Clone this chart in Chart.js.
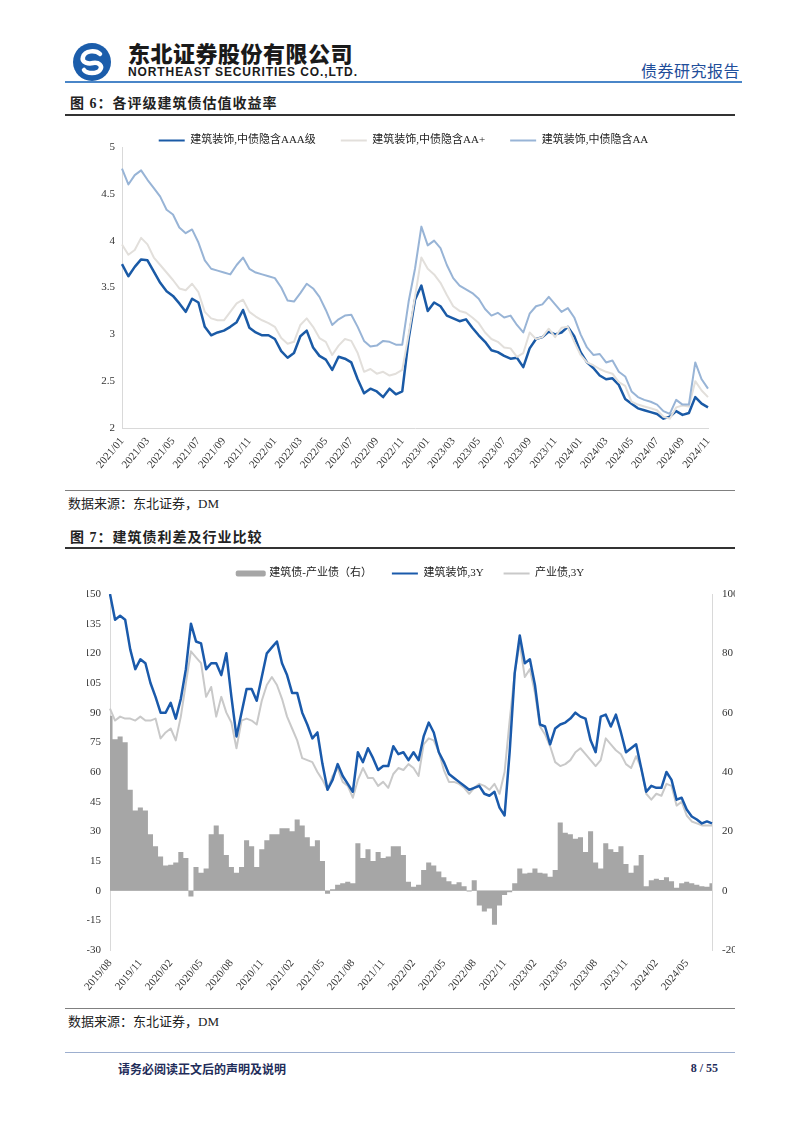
<!DOCTYPE html>
<html>
<head>
<meta charset="UTF-8">
<title>建筑债估值收益率与利差</title>
<script src="https://cdn.jsdelivr.net/npm/chart.js"></script>
<style>
  html, body { margin: 0; padding: 0; background: #fff; }
  body { position: relative; width: 802px; height: 1133px; overflow: hidden;
         font-family: "Liberation Serif", "Noto Sans CJK SC", serif; color: #222; }
  .abs { position: absolute; white-space: nowrap; }
  .rule { position: absolute; left: 65px; width: 670px; }
  .fig-title { position: absolute; left: 70px; font-size: 14px; font-weight: 700; letter-spacing: 1px; line-height: 16px; white-space: nowrap; }
  .source { position: absolute; left: 68px; font-size: 13px; line-height: 15px; color: #222; white-space: nowrap; }
  canvas { position: absolute; }
</style>
</head>
<body>

<svg class="abs" style="left:72px;top:42px" width="40" height="40" viewBox="0 0 40 40">
  <circle cx="20" cy="20" r="19" fill="#1b5dab"/>
  <path d="M28 12 C24 8 13 8 11 15 C9 21 17 22 21 21 C27 20 31 24 28 28 C25 32 15 32 12 28" fill="none" stroke="#fff" stroke-width="4.5" stroke-linecap="round"/>
</svg>
<div class="abs" style="left:128px;top:41px;font:900 22px/22px 'Noto Sans CJK SC';letter-spacing:0.5px;color:#1a1a1a">东北证券股份有限公司</div>
<div class="abs" style="left:128px;top:66px;font:bold 12px/12px 'Liberation Sans';letter-spacing:0.9px;color:#1a1a1a">NORTHEAST SECURITIES CO.,LTD.</div>
<div class="abs" style="left:641px;top:62px;font:16px/17px 'Noto Sans CJK SC';letter-spacing:0.5px;color:#1f4e9a">债券研究报告</div>
<div class="rule" style="top:81px;height:2px;width:677px;background:#4a86c8"></div>

<div class="fig-title" style="top:96px">图 6：各评级建筑债估值收益率</div>
<div class="rule" style="top:114px;height:2px;background:#333"></div>
<canvas id="yieldChart" width="670" height="375" style="left:65px;top:110px"></canvas>
<div class="rule" style="top:490px;height:1px;background:#808080"></div>
<div class="source" style="top:496px">数据来源：东北证券，DM</div>

<div class="fig-title" style="top:530px">图 7：建筑债利差及行业比较</div>
<div class="rule" style="top:547px;height:2px;background:#333"></div>
<canvas id="spreadChart" width="670" height="457" style="left:65px;top:548px"></canvas>
<div class="rule" style="top:1008px;height:1px;background:#808080"></div>
<div class="source" style="top:1014px">数据来源：东北证券，DM</div>

<div class="rule" style="top:1052px;height:1px;background:#9dafcf"></div>
<div class="abs" style="left:118px;top:1062px;font:bold 12px/14px 'Noto Sans CJK SC';color:#1f2d5a">请务必阅读正文后的声明及说明</div>
<div class="abs" style="left:668px;top:1061px;width:50px;text-align:right;font:bold 12px/14px 'Liberation Serif';color:#1f2d5a">8 / 55</div>

<script>
// 图6：各评级建筑债估值收益率（%），半月一个点，2021/01 起
const aaaYield = [3.75, 3.62, 3.72, 3.80, 3.79, 3.67, 3.55, 3.46, 3.41, 3.33,
  3.24, 3.38, 3.34, 3.08, 2.99, 3.02, 3.04, 3.08, 3.13, 3.26,
  3.07, 3.02, 2.99, 2.99, 2.95, 2.82, 2.75, 2.80, 2.98, 3.04,
  2.86, 2.77, 2.73, 2.62, 2.76, 2.74, 2.70, 2.52, 2.37, 2.42,
  2.39, 2.33, 2.42, 2.36, 2.39, 2.95, 3.37, 3.52, 3.25, 3.34,
  3.30, 3.20, 3.17, 3.14, 3.16, 3.07, 2.99, 2.92, 2.83, 2.81,
  2.77, 2.74, 2.75, 2.65, 2.85, 2.95, 2.97, 3.03, 3.00, 3.02,
  3.08, 2.98, 2.81, 2.70, 2.64, 2.56, 2.52, 2.53, 2.46, 2.31,
  2.26, 2.21, 2.19, 2.17, 2.15, 2.10, 2.12, 2.18, 2.14, 2.16,
  2.33, 2.26, 2.22];
const aaPlusYield = [3.96, 3.85, 3.90, 4.03, 3.96, 3.82, 3.74, 3.66, 3.58, 3.49,
  3.47, 3.54, 3.45, 3.24, 3.17, 3.15, 3.15, 3.24, 3.33, 3.37,
  3.24, 3.19, 3.15, 3.12, 3.08, 2.96, 2.90, 2.92, 3.10, 3.17,
  3.08, 2.96, 2.92, 2.78, 2.88, 2.95, 2.93, 2.80, 2.60, 2.63,
  2.58, 2.60, 2.56, 2.58, 2.62, 3.00, 3.40, 3.82, 3.70, 3.64,
  3.55, 3.42, 3.30, 3.25, 3.23, 3.18, 3.12, 3.02, 2.95, 2.92,
  2.86, 2.85, 2.76, 2.80, 3.02, 2.95, 2.97, 3.06, 2.97, 3.07,
  3.08, 2.92, 2.78, 2.70, 2.67, 2.63, 2.60, 2.58, 2.49, 2.45,
  2.28, 2.25, 2.23, 2.21, 2.19, 2.12, 2.10, 2.22, 2.24, 2.23,
  2.50, 2.40, 2.33];
const aaYield = [4.77, 4.60, 4.70, 4.75, 4.65, 4.56, 4.47, 4.33, 4.28, 4.14,
  4.08, 4.12, 3.98, 3.79, 3.70, 3.68, 3.66, 3.64, 3.74, 3.82,
  3.70, 3.66, 3.64, 3.62, 3.60, 3.50, 3.36, 3.35, 3.44, 3.54,
  3.49, 3.40, 3.26, 3.10, 3.16, 3.20, 3.21, 3.08, 2.93, 2.87,
  2.88, 2.93, 2.92, 2.89, 2.89, 3.35, 3.70, 4.15, 3.95, 4.00,
  3.92, 3.74, 3.60, 3.52, 3.48, 3.44, 3.38, 3.27, 3.20, 3.23,
  3.18, 3.20, 3.10, 3.02, 3.22, 3.30, 3.32, 3.40, 3.32, 3.24,
  3.28, 3.18, 3.00, 2.86, 2.78, 2.79, 2.70, 2.72, 2.60, 2.55,
  2.39, 2.33, 2.30, 2.28, 2.25, 2.18, 2.15, 2.30, 2.25, 2.25,
  2.70, 2.52, 2.42];

// 图7：建筑债利差及行业比较（bp），半月一个点，2019/08 起
const constructionSpread = [150, 137, 139, 137, 122, 112, 117, 115, 105, 98,
  90, 90, 95, 87, 97, 112, 135, 126, 125,
  112, 115, 115, 109, 120, 98, 78, 90, 102, 102,
  96, 108, 120, 123, 126, 115, 109, 100, 100,
  90, 84, 77, 80, 64, 51, 56, 64, 58, 54,
  50, 70, 65, 72, 67, 61, 63, 63, 73,
  69, 70, 66, 70, 66, 78, 85, 80, 70, 65,
  59, 57, 55, 53, 51, 52, 53, 49, 48,
  50, 42, 38, 70, 110, 129, 115, 117, 104, 84,
  83, 74, 82, 84, 85, 87, 90, 88, 87,
  76, 70, 88, 89, 83, 89, 80, 70, 72, 74,
  62, 50, 53, 52, 52, 60, 56, 46, 47,
  41, 37.5, 36, 34, 35, 34];
const industrySpread = [92, 86, 88, 87, 87, 86, 88, 86, 86, 87,
  77, 80, 82, 76, 88, 105, 121, 118, 115,
  98, 103, 88, 98, 90, 85, 72, 86, 87, 86,
  84, 96, 104, 108, 104, 97, 88, 82, 76,
  67, 66, 65, 60, 56, 51, 58, 62, 55, 53,
  47, 56, 62, 57, 57, 53, 55, 52, 59,
  62, 61, 64, 62, 58, 74, 77, 76, 70, 61,
  55, 55, 54, 52, 49, 52, 54, 53, 51,
  54, 49, 60, 86, 110, 125, 108, 112, 100, 83,
  79, 73, 65, 63, 64, 66, 70, 72, 69,
  66, 63, 66, 77, 74, 71, 69, 64, 62, 68,
  62, 49, 46, 49, 48, 54, 53, 43, 45,
  38, 35, 34, 33, 33, 33];
const spreadDiff = [59, 51, 52, 50, 34, 27, 28, 27, 19, 15,
  11.5, 8.5, 8.7, 9.5, 13, 11, -2, 8, 6,
  7.5, 19, 22, 19, 12, 8, 6, 8, 17, 15,
  8, 14, 17, 19, 19, 21, 21, 20, 24,
  22, 18, 15, 17, 10, -1, 0.5, 2, 2.5, 3,
  2.5, 16, 11, 14, 10, 13, 11, 11.5, 15,
  15, 12, 3, 1.3, 2, 7, 9.5, 8.5, 6.5, 4.5,
  3.2, 2.2, 2.8, 1.5, -0.3, 3.5, -5, -7, -6,
  -11.5, -5, -1.5, -0.5, 2.5, 7.5, 5.8, 6, 7.5, 6,
  5.8, 4.7, 7, 23, 19.5, 19, 17.5, 18, 13,
  20, 9.5, 7.5, 16, 14, 13, 15, 9, 6, 8.5,
  12, 1.5, 3.5, 4, 3.6, 4.5, 3.2, 1, 2.5,
  3, 2.5, 2, 1.5, 1.3, 2.5];

// 日期类别：每月 01 与 16 两个点
function halfMonths(startYear, startMonth, count) {
  const out = [];
  for (let k = 0; k < count; k++) {
    const idx = startMonth - 1 + Math.floor(k / 2);
    const y = startYear + Math.floor(idx / 12);
    const m = (idx % 12) + 1;
    out.push(y + '/' + String(m).padStart(2, '0') + '/' + (k % 2 ? '16' : '01'));
  }
  return out;
}
const ratingDates = halfMonths(2021, 1, aaaYield.length);
const spreadDates = halfMonths(2019, 8, constructionSpread.length);

const FONT = '"Liberation Serif", "Noto Sans CJK SC", serif';
Chart.defaults.font.family = FONT;
Chart.defaults.font.size = 11;
Chart.defaults.color = '#333';

// 图例：线条画成细条，面积画成粗块，按数据顺序排列
function legendItems(chart) {
  const items = Chart.defaults.plugins.legend.labels.generateLabels(chart);
  items.sort((a, b) => a.datasetIndex - b.datasetIndex);
  items.forEach(item => {
    const ds = chart.data.datasets[item.datasetIndex];
    item.fillStyle = ds.borderColor;
    item.strokeStyle = ds.borderColor;
    item.lineWidth = ds.fill ? 4 : 0;
  });
  return items;
}

function monthTick(keep) {
  return function (value) {
    const parts = this.getLabelForValue(value).split('/');
    return parts[2] === '01' && keep(+parts[1]) ? parts[0] + '/' + parts[1] : '';
  };
}

new Chart(document.getElementById('yieldChart'), {
  type: 'line',
  data: {
    labels: ratingDates,
    datasets: [
      { label: '建筑装饰,中债隐含AAA级', data: aaaYield, borderColor: '#1a5aa6', borderWidth: 2.5, order: 3 },
      { label: '建筑装饰,中债隐含AA+', data: aaPlusYield, borderColor: '#e2dfdb', borderWidth: 2, order: 2 },
      { label: '建筑装饰,中债隐含AA', data: aaYield, borderColor: '#98b4d6', borderWidth: 2, order: 1 }
    ]
  },
  options: {
    responsive: false,
    animation: false,
    layout: { padding: { left: 34, right: 27, top: 0, bottom: 0 } },
    elements: { point: { radius: 0 }, line: { tension: 0, borderJoinStyle: 'round' } },
    plugins: {
      legend: {
        position: 'top',
        maxHeight: 37,
        labels: { boxWidth: 26, boxHeight: 2, padding: 25, font: { size: 11 }, color: '#222', generateLabels: legendItems }
      },
      tooltip: { enabled: false }
    },
    scales: {
      x: {
        grid: { display: false, drawTicks: false },
        border: { color: '#d9d9d9' },
        ticks: { autoSkip: false, minRotation: 50, maxRotation: 50, padding: 7, callback: monthTick(m => m % 2 === 1) },
        afterFit: s => { s.height = 57; }
      },
      y: {
        min: 2, max: 5,
        grid: { display: false, drawTicks: false },
        border: { color: '#d9d9d9' },
        ticks: { stepSize: 0.5, padding: 7, callback: v => String(v) },
        afterFit: s => { s.width = 23; }
      }
    }
  }
});

new Chart(document.getElementById('spreadChart'), {
  type: 'line',
  data: {
    labels: spreadDates,
    datasets: [
      { label: '建筑债-产业债（右）', data: spreadDiff, yAxisID: 'yRight', borderColor: '#a6a6a6', backgroundColor: '#a6a6a6',
        borderWidth: 0, fill: 'origin', stepped: 'middle', order: 3 },
      { label: '建筑装饰,3Y', data: constructionSpread, yAxisID: 'y', borderColor: '#1a5aab', borderWidth: 2.5, order: 1 },
      { label: '产业债,3Y', data: industrySpread, yAxisID: 'y', borderColor: '#c9c9c9', borderWidth: 2, order: 2 }
    ]
  },
  options: {
    responsive: false,
    animation: false,
    layout: { padding: { left: 22, right: 0, top: 0, bottom: 0 } },
    elements: { point: { radius: 0 }, line: { tension: 0, borderJoinStyle: 'round' } },
    plugins: {
      legend: {
        position: 'top',
        labels: { boxWidth: 26, boxHeight: 2, padding: 20, font: { size: 11 }, color: '#222', generateLabels: legendItems }
      },
      title: { display: true, text: '', weight: 500, font: { size: 1, lineHeight: 1 }, padding: { top: 0, bottom: 4 } },
      tooltip: { enabled: false }
    },
    scales: {
      x: {
        offset: false,
        grid: { display: false, drawTicks: false },
        border: { display: false },
        ticks: { autoSkip: false, minRotation: 50, maxRotation: 50, padding: 7, callback: monthTick(m => m % 3 === 2) },
        afterFit: s => { s.height = 55; }
      },
      y: {
        position: 'left',
        min: -30, max: 150,
        grid: { drawTicks: false, color: c => (c.tick && c.tick.value === 0) ? '#d9d9d9' : 'rgba(0,0,0,0)' },
        border: { color: '#d9d9d9' },
        ticks: { stepSize: 15, padding: 9 },
        afterFit: s => { s.width = 23; }
      },
      yRight: {
        position: 'right',
        min: -20, max: 100,
        grid: { display: false, drawTicks: false },
        border: { color: '#d9d9d9' },
        ticks: { stepSize: 20, padding: 10 },
        afterFit: s => { s.width = 23; }
      }
    }
  }
});
</script>
</body>
</html>
